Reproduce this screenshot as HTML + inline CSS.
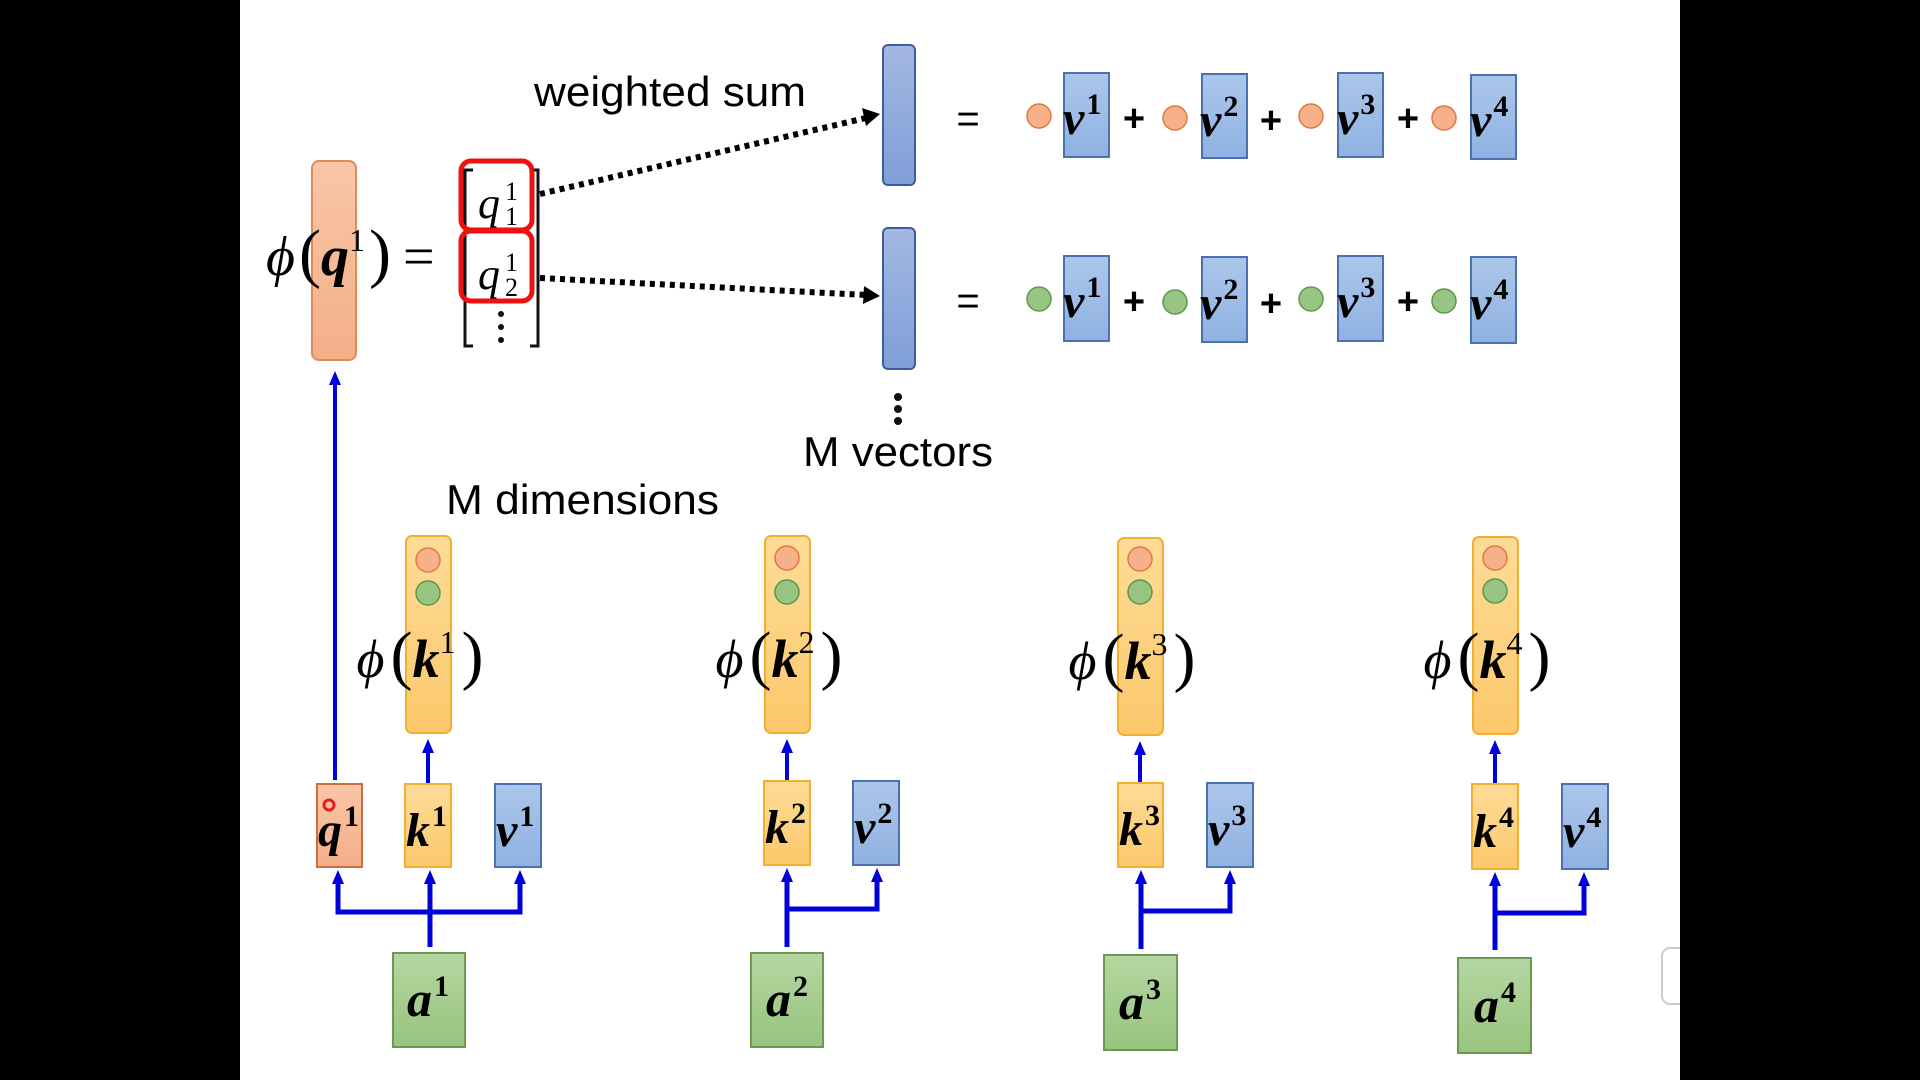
<!DOCTYPE html>
<html><head><meta charset="utf-8"><style>
html,body{margin:0;padding:0;background:#000;}
svg{display:block;}
</style></head><body>
<svg width="1920" height="1080" viewBox="0 0 1920 1080" xmlns="http://www.w3.org/2000/svg" font-family="Liberation Serif, serif">
<defs>
<linearGradient id="gy" x1="0" y1="0" x2="0" y2="1"><stop offset="0" stop-color="#fddc98"/><stop offset="1" stop-color="#fcc86a"/></linearGradient>
<linearGradient id="gb" x1="0" y1="0" x2="0" y2="1"><stop offset="0" stop-color="#adc6ea"/><stop offset="1" stop-color="#8fb2e2"/></linearGradient>
<linearGradient id="gg" x1="0" y1="0" x2="0" y2="1"><stop offset="0" stop-color="#b5d6a2"/><stop offset="1" stop-color="#98c47e"/></linearGradient>
<linearGradient id="go" x1="0" y1="0" x2="0" y2="1"><stop offset="0" stop-color="#f9c6a8"/><stop offset="1" stop-color="#f4ae88"/></linearGradient>
<linearGradient id="gd" x1="0" y1="0" x2="0" y2="1"><stop offset="0" stop-color="#a3b8e2"/><stop offset="1" stop-color="#7f9fd8"/></linearGradient>
</defs>
<rect x="240" y="0" width="1440" height="1080" fill="#fff"/>

<!-- phi(q1) -->
<rect x="312" y="161" width="44" height="199" rx="7" fill="url(#go)" stroke="#e08a58" stroke-width="2"/>
<text x="266" y="275" font-size="56"><tspan font-style="italic">ϕ</tspan><tspan font-size="66" dx="4">(</tspan><tspan font-weight="bold" font-style="italic">q</tspan><tspan font-size="32" dy="-24">1</tspan><tspan dy="24" font-size="66" dx="4">)</tspan><tspan dx="12">=</tspan></text>
<!-- matrix -->
<path d="M473 170 H465 V346 H473 M530 170 H538 V346 H530" fill="none" stroke="#111" stroke-width="3"/>
<text x="478" y="218" font-size="44" font-style="italic">q</text><text x="505" y="200" font-size="26">1</text><text x="505" y="225" font-size="26">1</text>
<text x="478" y="289" font-size="44" font-style="italic">q</text><text x="505" y="271" font-size="26">1</text><text x="505" y="296" font-size="26">2</text>
<circle cx="501" cy="314" r="3" fill="#111"/><circle cx="501" cy="327" r="3" fill="#111"/><circle cx="501" cy="340" r="3" fill="#111"/>
<rect x="461" y="161" width="71" height="69" rx="10" fill="none" stroke="#ee1111" stroke-width="5"/>
<rect x="461" y="231" width="71" height="70" rx="10" fill="none" stroke="#ee1111" stroke-width="5"/>

<!-- dotted arrows -->
<line x1="540" y1="194" x2="866" y2="118" stroke="#000" stroke-width="6" stroke-dasharray="5 5"/>
<polygon points="880,114 862,108 866,126" fill="#000"/>
<line x1="540" y1="278" x2="866" y2="295" stroke="#000" stroke-width="6" stroke-dasharray="5 5"/>
<polygon points="880,296 864,286 863,304" fill="#000"/>
<text x="534" y="106" font-family="Liberation Sans, sans-serif" font-size="42" textLength="272" lengthAdjust="spacingAndGlyphs">weighted sum</text>

<!-- dark blue bars -->
<rect x="883" y="45" width="32" height="140" rx="5" fill="url(#gd)" stroke="#3c5d9c" stroke-width="2"/>
<rect x="883" y="228" width="32" height="141" rx="5" fill="url(#gd)" stroke="#3c5d9c" stroke-width="2"/>
<circle cx="898" cy="397" r="4" fill="#111"/><circle cx="898" cy="409" r="4" fill="#111"/><circle cx="898" cy="421" r="4" fill="#111"/>
<text x="803" y="466" font-family="Liberation Sans, sans-serif" font-size="42" textLength="190" lengthAdjust="spacingAndGlyphs">M vectors</text>
<text x="446" y="514" font-family="Liberation Sans, sans-serif" font-size="42" textLength="273" lengthAdjust="spacingAndGlyphs">M dimensions</text>

<!-- rows -->
<g font-family="Liberation Sans, sans-serif" font-size="40">
<text x="968" y="132" text-anchor="middle">=</text>
<text x="968" y="314" text-anchor="middle">=</text>
</g>
<g>
<circle cx="1039" cy="116" r="12" fill="#f6b08a" stroke="#e07a40" stroke-width="1.5"/>
<circle cx="1175" cy="118" r="12" fill="#f6b08a" stroke="#e07a40" stroke-width="1.5"/>
<circle cx="1311" cy="116" r="12" fill="#f6b08a" stroke="#e07a40" stroke-width="1.5"/>
<circle cx="1444" cy="118" r="12" fill="#f6b08a" stroke="#e07a40" stroke-width="1.5"/>
<rect x="1064" y="73" width="45" height="84" fill="url(#gb)" stroke="#4a72b0" stroke-width="2"/>
<rect x="1202" y="74" width="45" height="84" fill="url(#gb)" stroke="#4a72b0" stroke-width="2"/>
<rect x="1338" y="73" width="45" height="84" fill="url(#gb)" stroke="#4a72b0" stroke-width="2"/>
<rect x="1471" y="75" width="45" height="84" fill="url(#gb)" stroke="#4a72b0" stroke-width="2"/>
</g>
<g>
<circle cx="1039" cy="299" r="12" fill="#98c484" stroke="#5a9a48" stroke-width="1.5"/>
<circle cx="1175" cy="302" r="12" fill="#98c484" stroke="#5a9a48" stroke-width="1.5"/>
<circle cx="1311" cy="299" r="12" fill="#98c484" stroke="#5a9a48" stroke-width="1.5"/>
<circle cx="1444" cy="301" r="12" fill="#98c484" stroke="#5a9a48" stroke-width="1.5"/>
<rect x="1064" y="256" width="45" height="85" fill="url(#gb)" stroke="#4a72b0" stroke-width="2"/>
<rect x="1202" y="257" width="45" height="85" fill="url(#gb)" stroke="#4a72b0" stroke-width="2"/>
<rect x="1338" y="256" width="45" height="85" fill="url(#gb)" stroke="#4a72b0" stroke-width="2"/>
<rect x="1471" y="257" width="45" height="86" fill="url(#gb)" stroke="#4a72b0" stroke-width="2"/>
</g>
<g font-weight="bold" font-style="italic" font-size="48">
<text x="1063" y="134">v<tspan font-size="30" font-style="normal" dx="2" dy="-20">1</tspan></text>
<text x="1200" y="136">v<tspan font-size="30" font-style="normal" dx="2" dy="-20">2</tspan></text>
<text x="1337" y="134">v<tspan font-size="30" font-style="normal" dx="2" dy="-20">3</tspan></text>
<text x="1470" y="136">v<tspan font-size="30" font-style="normal" dx="2" dy="-20">4</tspan></text>
<text x="1063" y="317">v<tspan font-size="30" font-style="normal" dx="2" dy="-20">1</tspan></text>
<text x="1200" y="319">v<tspan font-size="30" font-style="normal" dx="2" dy="-20">2</tspan></text>
<text x="1337" y="317">v<tspan font-size="30" font-style="normal" dx="2" dy="-20">3</tspan></text>
<text x="1470" y="319">v<tspan font-size="30" font-style="normal" dx="2" dy="-20">4</tspan></text>
</g>
<g font-family="Liberation Sans, sans-serif" font-weight="bold" font-size="38" text-anchor="middle">
<text x="1134" y="131">+</text><text x="1271" y="133">+</text><text x="1408" y="131">+</text>
<text x="1134" y="314">+</text><text x="1271" y="316">+</text><text x="1408" y="314">+</text>
</g>

<!-- q arrow -->
<line x1="335" y1="780" x2="335" y2="382" stroke="#0000dd" stroke-width="4"/>
<polygon points="335,371 329,385 341,385" fill="#0000dd"/>

<g transform="translate(428,0)">
<rect x="-22" y="536" width="45" height="197" rx="6" fill="url(#gy)" stroke="#f0b030" stroke-width="2"/>
<circle cx="0" cy="560" r="12" fill="#f6b08a" stroke="#e07a40" stroke-width="1.5"/>
<circle cx="0" cy="593" r="12" fill="#98c484" stroke="#5a9a48" stroke-width="1.5"/>
<text x="-8" y="677" text-anchor="middle" font-size="54"><tspan font-style="italic">ϕ</tspan><tspan font-size="66" dx="6">(</tspan><tspan font-weight="bold" font-style="italic">k</tspan><tspan font-size="32" dy="-24">1</tspan><tspan dy="24" font-size="66" dx="6">)</tspan></text>
<line x1="0" y1="783" x2="0" y2="750" stroke="#0000dd" stroke-width="4"/><polygon points="0,739 -6,753 6,753" fill="#0000dd"/>
<rect x="-111" y="784" width="45" height="83" fill="url(#go)" stroke="#d06a40" stroke-width="2"/>
<rect x="-23" y="784" width="46" height="83" fill="url(#gy)" stroke="#f0b030" stroke-width="2"/>
<rect x="67" y="784" width="46" height="83" fill="url(#gb)" stroke="#4a72b0" stroke-width="2"/>
<g font-weight="bold" font-style="italic" font-size="48">
<text x="-110" y="846">q<tspan font-size="30" font-style="normal" dx="2" dy="-20">1</tspan></text>
<text x="-22" y="846">k<tspan font-size="30" font-style="normal" dx="2" dy="-20">1</tspan></text>
<text x="68" y="846">v<tspan font-size="30" font-style="normal" dx="2" dy="-20">1</tspan></text>
</g>
<circle cx="-99" cy="805" r="5" fill="none" stroke="#e02020" stroke-width="3"/>
<rect x="-35" y="953" width="72" height="94" fill="url(#gg)" stroke="#6a9a50" stroke-width="2"/>
<text x="0" y="1016" text-anchor="middle" font-weight="bold" font-style="italic" font-size="50">a<tspan font-size="30" font-style="normal" dx="2" dy="-20">1</tspan></text>
<path d="M2 947 V880 M-90 880 V912 H92 V880" fill="none" stroke="#0000dd" stroke-width="5"/>
<polygon points="2,870 -4,884 8,884" fill="#0000dd"/>
<polygon points="-90,870 -96,884 -84,884" fill="#0000dd"/>
<polygon points="92,870 86,884 98,884" fill="#0000dd"/>
</g>

<g transform="translate(787,0)">
<rect x="-22" y="536" width="45" height="197" rx="6" fill="url(#gy)" stroke="#f0b030" stroke-width="2"/>
<circle cx="0" cy="558" r="12" fill="#f6b08a" stroke="#e07a40" stroke-width="1.5"/>
<circle cx="0" cy="592" r="12" fill="#98c484" stroke="#5a9a48" stroke-width="1.5"/>
<text x="-8" y="677" text-anchor="middle" font-size="54"><tspan font-style="italic">ϕ</tspan><tspan font-size="66" dx="6">(</tspan><tspan font-weight="bold" font-style="italic">k</tspan><tspan font-size="32" dy="-24">2</tspan><tspan dy="24" font-size="66" dx="6">)</tspan></text>
<line x1="0" y1="780" x2="0" y2="750" stroke="#0000dd" stroke-width="4"/><polygon points="0,739 -6,753 6,753" fill="#0000dd"/>
<rect x="-23" y="781" width="46" height="84" fill="url(#gy)" stroke="#f0b030" stroke-width="2"/>
<rect x="66" y="781" width="46" height="84" fill="url(#gb)" stroke="#4a72b0" stroke-width="2"/>
<g font-weight="bold" font-style="italic" font-size="48">
<text x="-22" y="843">k<tspan font-size="30" font-style="normal" dx="2" dy="-20">2</tspan></text>
<text x="67" y="843">v<tspan font-size="30" font-style="normal" dx="2" dy="-20">2</tspan></text>
</g>
<rect x="-36" y="953" width="72" height="94" fill="url(#gg)" stroke="#6a9a50" stroke-width="2"/>
<text x="0" y="1016" text-anchor="middle" font-weight="bold" font-style="italic" font-size="50">a<tspan font-size="30" font-style="normal" dx="2" dy="-20">2</tspan></text>
<path d="M0 947 V878 M0 909 H90 V878" fill="none" stroke="#0000dd" stroke-width="5"/>
<polygon points="0,868 -6,882 6,882" fill="#0000dd"/>
<polygon points="90,868 84,882 96,882" fill="#0000dd"/>
</g>

<g transform="translate(1140,0)">
<rect x="-22" y="538" width="45" height="197" rx="6" fill="url(#gy)" stroke="#f0b030" stroke-width="2"/>
<circle cx="0" cy="559" r="12" fill="#f6b08a" stroke="#e07a40" stroke-width="1.5"/>
<circle cx="0" cy="592" r="12" fill="#98c484" stroke="#5a9a48" stroke-width="1.5"/>
<text x="-8" y="679" text-anchor="middle" font-size="54"><tspan font-style="italic">ϕ</tspan><tspan font-size="66" dx="6">(</tspan><tspan font-weight="bold" font-style="italic">k</tspan><tspan font-size="32" dy="-24">3</tspan><tspan dy="24" font-size="66" dx="6">)</tspan></text>
<line x1="0" y1="782" x2="0" y2="752" stroke="#0000dd" stroke-width="4"/><polygon points="0,741 -6,755 6,755" fill="#0000dd"/>
<rect x="-22" y="783" width="45" height="84" fill="url(#gy)" stroke="#f0b030" stroke-width="2"/>
<rect x="67" y="783" width="46" height="84" fill="url(#gb)" stroke="#4a72b0" stroke-width="2"/>
<g font-weight="bold" font-style="italic" font-size="48">
<text x="-21" y="845">k<tspan font-size="30" font-style="normal" dx="2" dy="-20">3</tspan></text>
<text x="68" y="845">v<tspan font-size="30" font-style="normal" dx="2" dy="-20">3</tspan></text>
</g>
<rect x="-36" y="955" width="73" height="95" fill="url(#gg)" stroke="#6a9a50" stroke-width="2"/>
<text x="0" y="1019" text-anchor="middle" font-weight="bold" font-style="italic" font-size="50">a<tspan font-size="30" font-style="normal" dx="2" dy="-20">3</tspan></text>
<path d="M1 949 V880 M1 911 H90 V880" fill="none" stroke="#0000dd" stroke-width="5"/>
<polygon points="1,870 -5,884 7,884" fill="#0000dd"/>
<polygon points="90,870 84,884 96,884" fill="#0000dd"/>
</g>

<g transform="translate(1495,0)">
<rect x="-22" y="537" width="45" height="197" rx="6" fill="url(#gy)" stroke="#f0b030" stroke-width="2"/>
<circle cx="0" cy="558" r="12" fill="#f6b08a" stroke="#e07a40" stroke-width="1.5"/>
<circle cx="0" cy="591" r="12" fill="#98c484" stroke="#5a9a48" stroke-width="1.5"/>
<text x="-8" y="678" text-anchor="middle" font-size="54"><tspan font-style="italic">ϕ</tspan><tspan font-size="66" dx="6">(</tspan><tspan font-weight="bold" font-style="italic">k</tspan><tspan font-size="32" dy="-24">4</tspan><tspan dy="24" font-size="66" dx="6">)</tspan></text>
<line x1="0" y1="783" x2="0" y2="751" stroke="#0000dd" stroke-width="4"/><polygon points="0,740 -6,754 6,754" fill="#0000dd"/>
<rect x="-23" y="784" width="46" height="85" fill="url(#gy)" stroke="#f0b030" stroke-width="2"/>
<rect x="67" y="784" width="46" height="85" fill="url(#gb)" stroke="#4a72b0" stroke-width="2"/>
<g font-weight="bold" font-style="italic" font-size="48">
<text x="-22" y="847">k<tspan font-size="30" font-style="normal" dx="2" dy="-20">4</tspan></text>
<text x="68" y="847">v<tspan font-size="30" font-style="normal" dx="2" dy="-20">4</tspan></text>
</g>
<rect x="-37" y="958" width="73" height="95" fill="url(#gg)" stroke="#6a9a50" stroke-width="2"/>
<text x="0" y="1022" text-anchor="middle" font-weight="bold" font-style="italic" font-size="50">a<tspan font-size="30" font-style="normal" dx="2" dy="-20">4</tspan></text>
<path d="M0 950 V882 M0 913 H89 V882" fill="none" stroke="#0000dd" stroke-width="5"/>
<polygon points="0,872 -6,886 6,886" fill="#0000dd"/>
<polygon points="89,872 83,886 95,886" fill="#0000dd"/>
</g>

<rect x="1662" y="948" width="30" height="56" rx="8" fill="#fff" stroke="#ccc" stroke-width="2"/>
<rect x="1680" y="0" width="240" height="1080" fill="#000"/>
</svg>
</body></html>
